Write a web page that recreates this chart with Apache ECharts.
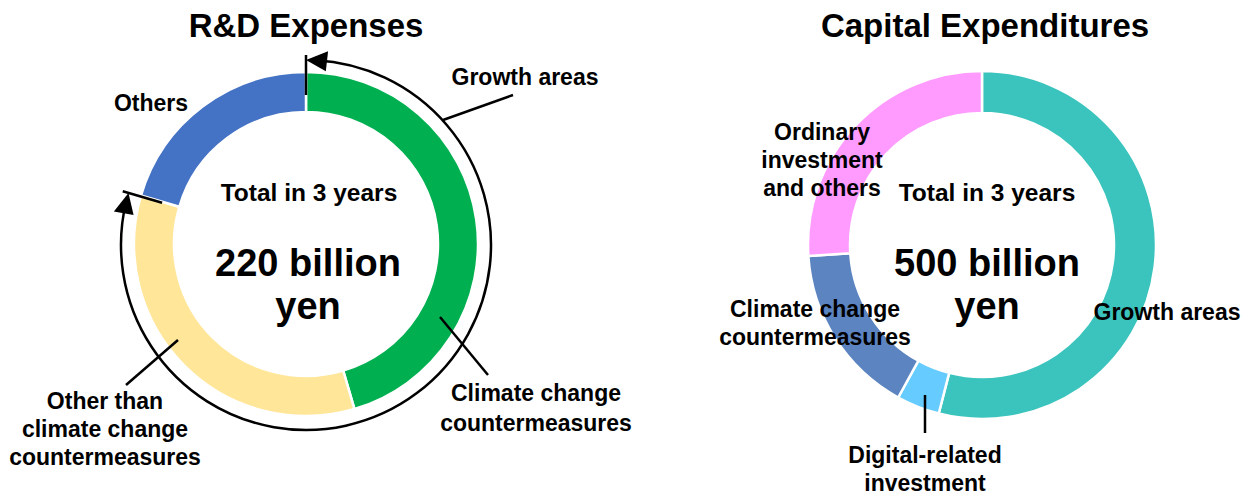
<!DOCTYPE html>
<html lang="en">
<head>
    <meta charset="UTF-8">
    <title>R&amp;D Expenses / Capital Expenditures</title>
    <style>
        * {
            margin: 0;
            padding: 0;
        }
        #chart {
            width: 1252px;
            height: 495px;
            background: #fff;
        }
    </style>
</head>
<body>
    <div id="chart"></div>
</body>
<script src="https://cdn.jsdelivr.net/npm/echarts@6/dist/echarts.min.js"></script>
<script>
    // left donut: R&D (billion yen)
    const rdNames = ['Climate change\ncountermeasures', 'Other than\nclimate change\ncountermeasures', 'Others']
    const rdValues = [100, 75, 45]
    const rdColors = ['#00B050', '#FFE699', '#4472C4']
    const rdGrowthName = 'Growth areas'

    // right donut: capex (billion yen)
    const capNames = ['Growth areas', 'Digital-related\ninvestment', 'Climate change\ncountermeasures', 'Ordinary\ninvestment\nand others']
    const capValues = [270, 20, 80, 130]
    const capColors = ['#3BC4BD', '#66CCFF', '#5B84C0', '#FF9BFF']

    const titles = ['R&D Expenses', 'Capital Expenditures']
    const totalCaption = 'Total in 3 years'
    const totals = ['220 billion\nyen', '500 billion\nyen']

    const FONT = '"Liberation Sans", Arial, sans-serif'
    const chart = echarts.init(document.getElementById('chart'), null, { renderer: 'svg' })

    const leftC = [306, 244]
    const rightC = [982, 245]

    // point on a circle, angle in degrees clockwise from 12 o'clock
    function polar(c, r, deg) {
        const a = deg * Math.PI / 180
        return [c[0] + r * Math.sin(a), c[1] - r * Math.cos(a)]
    }

    function pieSeries(names, values, colors, center, radius) {
        return {
            type: 'pie',
            z: 1,
            center: center,
            radius: radius,
            startAngle: 90,
            clockwise: true,
            silent: true,
            label: { show: false },
            labelLine: { show: false },
            itemStyle: { borderColor: '#fff', borderWidth: 2.5 },
            data: names.map((n, i) => ({ name: n, value: values[i], itemStyle: { color: colors[i] } }))
        }
    }

    function txt(x, y, text, size, lh) {
        return {
            type: 'text', x: x, y: y, silent: true, z: 100,
            style: {
                text: text, fill: '#000', fontSize: size, fontWeight: 'bold', fontFamily: FONT,
                align: 'center', verticalAlign: 'middle', lineHeight: lh || size * 1.2
            }
        }
    }

    function line(x1, y1, x2, y2) {
        return {
            type: 'line', silent: true, z: 100,
            shape: { x1: x1, y1: y1, x2: x2, y2: y2 },
            style: { stroke: '#000', lineWidth: 2.5 }
        }
    }

    function arrowHead(c, r, tipDeg, dir) {
        // dir: +1 body lies clockwise of the tip, -1 counterclockwise
        const len = 21, half = 10
        const backDeg = tipDeg + dir * len / r * 180 / Math.PI
        const tip = polar(c, r, tipDeg)
        const b1 = polar(c, r - half, backDeg)
        const b2 = polar(c, r + half, backDeg)
        return { type: 'polygon', silent: true, z: 100, shape: { points: [tip, b1, b2] }, style: { fill: '#000' } }
    }

    // bracket for growth areas on the R&D side = first two slices
    const rdTotal = rdValues.reduce((a, b) => a + b, 0)
    const growthDeg = (rdValues[0] + rdValues[1]) / rdTotal * 360
    const arcC = [306, 245]
    const arcR = 185
    const tickTop = [polar(arcC, 150, 0), polar(arcC, 190, 0)]
    const tickEnd = [polar(arcC, 150, growthDeg), polar(arcC, 191, growthDeg)]

    const graphics = [
        txt(306, 25, titles[0], 33),
        txt(985, 25, titles[1], 33),

        txt(309, 192, totalCaption, 24.5),
        txt(308, 284, totals[0], 38, 43),
        txt(987, 192, totalCaption, 24.5),
        txt(987, 284, totals[1], 38, 43),

        // growth bracket
        {
            type: 'arc', silent: true, z: 100,
            shape: {
                cx: arcC[0], cy: arcC[1], r: arcR,
                startAngle: -Math.PI / 2 + 0.05,
                endAngle: -Math.PI / 2 + growthDeg * Math.PI / 180 - 0.05,
                clockwise: true
            },
            style: { stroke: '#000', lineWidth: 2.5, fill: 'none' }
        },
        arrowHead(arcC, arcR, 0, 1),
        arrowHead(arcC, arcR, growthDeg, -1),
        line(tickTop[0][0], tickTop[0][1], tickTop[1][0], tickTop[1][1]),
        line(tickEnd[0][0], tickEnd[0][1], tickEnd[1][0], tickEnd[1][1]),

        // R&D labels
        txt(525, 77, rdGrowthName, 23),
        line(443, 120, 513, 95),
        txt(536, 408, rdNames[0], 23, 30),
        line(440, 317, 488, 375),
        txt(105, 429, rdNames[1], 23, 28),
        line(178, 340, 126, 385),
        txt(151, 103, rdNames[2], 23),

        // capex labels
        txt(1167, 312, capNames[0], 23),
        txt(925, 469, capNames[1], 23, 28),
        line(925, 395, 925, 433),
        txt(815, 323, capNames[2], 23, 28),
        txt(822, 160, capNames[3], 23, 28)
    ]

    const option = {
        backgroundColor: '#fff',
        animation: false,
        series: [
            pieSeries(rdNames, rdValues, rdColors, leftC, [132, 172]),
            pieSeries(capNames, capValues, capColors, rightC, [132, 174])
        ],
        graphic: graphics
    }
    chart.setOption(option)
</script>
</html>
